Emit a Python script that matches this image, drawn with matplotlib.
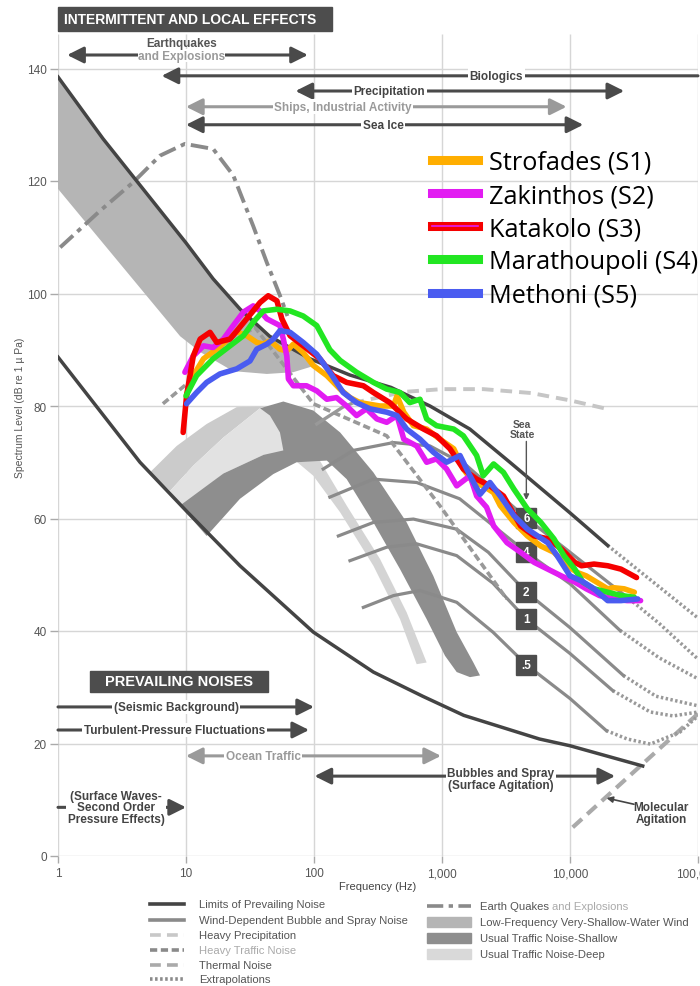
import numpy as np
import matplotlib
matplotlib.use('Agg')
import matplotlib.pyplot as plt
from matplotlib.patches import Rectangle
from matplotlib.lines import Line2D
from matplotlib.patches import ArrowStyle
from matplotlib.ticker import NullLocator

plt.rcParams['font.family'] = ['Liberation Sans', 'DejaVu Sans']
COND = ['Liberation Sans Narrow', 'Liberation Sans', 'DejaVu Sans']

# ---------------- axis data ----------------
freq_ticks = [1, 10, 100, 1000, 10000, 100000]
freq_tick_labels = ['1', '10', '100', '1,000', '10,000', '100,000']
db_ticks = [0, 20, 40, 60, 80, 100, 120, 140]

# ---------------- Wenz reference curves ----------------
upper_limit_f = [1, 2.25, 10, 16.3, 26.5, 45, 93, 191, 400, 805, 1650, 3390, 10000, 19700]
upper_limit_db = [138.5, 127.5, 109, 102.6, 97.2, 92.4, 88.4, 85.5, 83.3, 80, 75.9, 70, 61, 55.2]
upper_extrap_f = [19700, 100000]
upper_extrap_db = [55.2, 42.3]

lower_limit_f = [1, 4.37, 10.2, 26.4, 98.8, 291, 707, 1480, 5770, 10000, 37000]
lower_limit_db = [88.7, 70, 61.2, 51.6, 39.8, 32.7, 28.4, 25, 20.8, 19.6, 16]

# low-frequency very-shallow-water wind band: lower edge (upper edge = upper limit)
shallow_wind_lower_f = [98.8, 68.6, 42.8, 23.3, 12.9, 9.0, 1]
shallow_wind_lower_db = [87.1, 86.0, 85.7, 86.2, 89.6, 92.4, 118.6]

# traffic bands (outlines)
traffic_outer_f = [5.23, 8.46, 14.5, 24.9, 40.2, 37.9, 19.6, 11.4, 7.5]
traffic_outer_db = [68.2, 72.9, 76.8, 79.8, 79.9, 79.6, 74.4, 69.4, 64.9]
traffic_deep_f = [7.5, 11.4, 19.6, 37.9, 64.9, 77.8, 68.9, 40.2, 19.6, 9.25]
traffic_deep_db = [64.9, 69.4, 74.4, 79.6, 78.9, 72.9, 70.6, 71.3, 68.0, 62.1]
traffic_deep_tail_f = [64.9, 111, 111, 180, 328, 530, 759, 634, 470, 291, 160, 98.8, 68.9]
traffic_deep_tail_db = [72.9, 72.9, 70.3, 62.3, 52.8, 43.3, 34.4, 34.1, 42.1, 51.6, 61.1, 67.6, 70.6]
traffic_shallow_f = [8.98, 19.6, 40.2, 57.6, 54.2, 45.3, 37.9, 57.6, 98.8, 160, 291, 530, 855,
                     1303, 1758, 1982, 1655, 1303, 1055, 759, 470, 291, 180, 126, 73.2, 48.1, 26.4, 14.5]
traffic_shallow_db = [62.3, 68.0, 71.3, 72.1, 75.3, 78.3, 79.6, 80.8, 79.2, 75.3, 68.2, 59.3, 49.8,
                      39.8, 34.4, 32.1, 31.8, 32.7, 35.6, 42.1, 51.0, 59.3, 67.0, 70.3, 70.0, 67.9, 63.5, 56.9]

# wind dependent (sea state) curves
sea_states = ['6', '4', '2', '1', '.5']
ss_f = [
    [118, 202, 418, 805, 1560, 4530, 10000, 31000],
    [133, 291, 634, 1375, 4560, 10000, 24600],
    [155, 291, 598, 1303, 2300, 4560, 10000, 26100],
    [191, 370, 634, 1303, 2500, 4560, 10000, 21600],
    [243, 418, 673, 1303, 2500, 4560, 10000, 19200],
]
ss_db = [
    [68.8, 72.1, 73.5, 72.9, 69.4, 60.1, 54, 45.2],
    [63.8, 67, 66.4, 63.5, 54, 48.4, 40.1],
    [56.9, 59.3, 59.9, 58.1, 54, 46.9, 40.6, 32.1],
    [52.5, 54.9, 55.5, 53.4, 48.5, 42.1, 36, 29.4],
    [44.2, 46.3, 47.2, 45.1, 39.8, 34, 28, 22.3],
]
ss_extrap_f = [
    [31000, 50000, 100000],
    [24600, 50000, 100000],
    [26100, 47000, 100000],
    [21600, 42400, 64000, 100000],
    [19200, 28000, 42400, 72000, 100000],
]
ss_extrap_db = [
    [45.2, 41.3, 35],
    [40.1, 35.2, 31.5],
    [32.1, 28.4, 26.7],
    [29.4, 25.6, 24.9, 25.6],
    [22.3, 20.8, 19.9, 22, 24.9],
]
ss_label_f = [4560, 4560, 4560, 4560, 4560]
ss_label_db = [60.1, 54.0, 46.9, 42.1, 34.0]

precip_start_f = [105, 168, 200]
precip_start_db = [76.8, 79.8, 80.5]
precip_f = [200, 250, 500, 1000, 2100, 5000, 10000, 19300]
precip_db = [80.5, 81, 82.5, 83, 83, 82.3, 81, 79.5]

traffic_heavy_f = [6.6, 10.1, 20, 34.5, 98.8, 370, 960, 3200]
traffic_heavy_db = [80.4, 83.9, 90.5, 94, 80.4, 74.7, 62.3, 45.7]

thermal_f = [10500, 100000]
thermal_db = [5.1, 25.3]

quake_f = [1.04, 2.13, 3.88, 6.26, 9.8, 16.3, 23.4, 33.5, 42.8, 54.3, 62]
quake_db = [108.2, 114.7, 119.8, 124.5, 126.6, 125.7, 121, 112, 105.5, 99.6, 96]

# ---------------- measured spectra ----------------
series_names = ['Strofades (S1)', 'Zakinthos (S2)', 'Katakolo (S3)', 'Marathoupoli (S4)', 'Methoni (S5)']
series_colors = ['#FFAE00', '#E21CF2', '#F50000', '#22E622', '#4A5CF0']

s1_f = [10.1, 11.4, 13.7, 17.4, 22.1, 24.9, 29.8, 35.7, 40.2, 45.3, 54.2, 61.3, 69, 82.3, 98.8, 126, 160,
        191, 228, 328, 417, 445, 503, 598, 759, 963, 1235, 1468, 1758, 2100, 2530, 2850, 3650, 4650,
        5920, 7480, 9520, 11400, 13400, 16400, 19700, 21800, 26500, 31800]
s1_db = [82.1, 85.4, 88.4, 90.1, 92.2, 93.2, 92.5, 91.3, 91, 91.6, 90.1, 89.8, 91, 89.5, 87.2, 85.4, 83,
         81.5, 80.6, 80, 80, 81.8, 78.9, 76.5, 75.9, 74.1, 72.4, 68.8, 66.4, 65.8, 64.6, 62.3, 59.3, 56.9,
         55.1, 54, 51.6, 50.4, 49.8, 48.6, 47.5, 47.7, 47.5, 46.9]

s2_f = [9.8, 11.4, 13.7, 16.3, 19.6, 23.4, 28.1, 33.5, 37.9, 42.8, 48.1, 54.2, 57.6, 61.3, 63.1, 69, 87.4,
        105, 126, 150, 180, 215, 257, 310, 370, 445, 503, 634, 759, 907, 1086, 1303, 1655, 1865, 2230,
        2530, 3220, 4110, 5250, 6700, 8550, 10900, 13400, 17000, 21800, 27900, 35600]
s2_db = [86, 88.9, 90.7, 90.4, 91.9, 94.3, 96.7, 97.8, 96.9, 95.5, 94.9, 94.3, 91.9, 88.9, 84.8, 83.6, 83.6,
         82.7, 81.2, 81.5, 80, 78.3, 79.5, 77.7, 77.1, 78.3, 74.1, 72.9, 70, 70.6, 68.8, 65.8, 67.6, 64, 62,
         58.7, 55.7, 54, 52.2, 51, 49.8, 48.7, 47.5, 46.3, 45.7, 45.4, 45.4]

s3_f = [9.5, 10.1, 11.4, 12.9, 15.4, 17.4, 22.1, 29.8, 37.9, 43.9, 51.3, 56.1, 65, 82.3, 111, 141, 180, 243,
        291, 391, 530, 718, 907, 1153, 1468, 1865, 2370, 3020, 4110, 5250, 6700, 8550, 10900, 12300,
        15400, 19700, 25000, 33100]
s3_db = [75.3, 81.8, 88.9, 91.9, 93.1, 91.3, 91.9, 95.5, 98.4, 99.6, 98.7, 95.5, 92.5, 90.7, 88.4, 85.4,
         84.2, 83.6, 82.4, 80.6, 77.7, 75.9, 74.7, 72.4, 68.8, 67, 65.8, 64, 58.7, 56.9, 56.4, 54.6, 52.2,
         51.6, 51.9, 51.6, 51, 49.5]

s4_f = [10.0, 12.1, 16.3, 22.1, 28.1, 33.5, 40.2, 51.3, 65, 82.3, 105, 133, 160, 215, 291, 370, 470, 560,
        673, 759, 907, 1235, 1468, 1865, 2100, 2530, 3020, 3650, 4650, 5920, 7480, 8980, 10900, 12600,
        15400, 19700, 25000, 31800]
s4_db = [81.8, 85.4, 88.4, 90.7, 92.5, 94.9, 96.9, 97.2, 96.9, 96, 94.3, 90, 88.1, 86, 84.2, 83, 82.4, 80.6,
         81.2, 77.7, 76.5, 75.9, 74.7, 71.2, 67.6, 69.7, 68.2, 65.2, 61.7, 59.3, 56.4, 53.4, 51, 48.7,
         47.5, 46.9, 46.3, 46]

s5_f = [10.1, 12.1, 14.5, 18.4, 24.9, 31.6, 35.7, 42.8, 48.1, 54.2, 65, 82.3, 105, 133, 169, 215, 274, 370,
        445, 530, 673, 855, 1086, 1382, 1655, 1982, 2370, 2850, 3650, 4650, 6700, 7930, 10000, 12300,
        15400, 19700, 25000, 33800]
s5_db = [80.4, 82.4, 84.2, 85.7, 86.6, 88, 90.1, 91, 91.9, 93.4, 93.1, 91.3, 89.2, 86, 82.4, 80.6, 79.5,
         78.9, 78.3, 75.9, 74.1, 71.8, 70, 71.2, 67.6, 64.3, 66.4, 64, 60.5, 58.1, 55.7, 53.4, 49.8, 48.9,
         47.5, 45.4, 45.4, 45.7]

series_f = [s1_f, s2_f, s3_f, s4_f, s5_f]
series_db = [s1_db, s2_db, s3_db, s4_db, s5_db]

# ---------------- figure ----------------
W, H = 700, 987
fig = plt.figure(figsize=(W / 100, H / 100), dpi=100)
ax = fig.add_axes([58 / W, 130 / H, 640 / W, 852 / H])
ax.set_xscale('log')
ax.set_xlim(1, 1e5)
ax.set_ylim(0, 852 / 5.625)
for s in ax.spines.values():
    s.set_visible(False)

GRID = '#d6d6d6'
ax.vlines(freq_ticks, 0, 146.2, color=GRID, lw=1, zorder=0.5)
ax.hlines(db_ticks, 1, 1e5, color=GRID, lw=1, zorder=0.5)

ax.set_xticks(freq_ticks)
ax.set_xticklabels(freq_tick_labels)
ax.xaxis.set_minor_locator(NullLocator())
ax.set_yticks(db_ticks)
ax.tick_params(axis='y', length=6, width=1, color='#aaaaaa', labelsize=8.5, labelcolor='#555555', pad=2)
ax.tick_params(axis='x', length=5, width=1, color='#aaaaaa', labelsize=8.5, labelcolor='#555555', pad=3)
ax.set_xlabel('Frequency (Hz)', fontsize=8, color='#444444')
ax.xaxis.set_label_coords(0.5, -0.029)
ax.set_ylabel('Spectrum Level (dB re 1 \u00b5 Pa)', fontsize=7.5, color='#555555')
ax.yaxis.set_label_coords(-0.052, 0.527)

# bands
ax.fill(list(upper_limit_f[:7]) + shallow_wind_lower_f, list(upper_limit_db[:7]) + shallow_wind_lower_db,
        color='#b5b5b5', lw=0, zorder=1)
ax.fill(traffic_outer_f, traffic_outer_db, color='#cbcbcb', lw=0, zorder=1.1)
ax.fill(traffic_deep_f, traffic_deep_db, color='#e2e2e2', lw=0, zorder=1.2)
ax.fill(traffic_deep_tail_f, traffic_deep_tail_db, color='#d4d4d4', lw=0, zorder=1.3)
ax.fill(traffic_shallow_f, traffic_shallow_db, color='#8e8e8e', lw=0, zorder=1.4)

# reference lines
SS = '#8a8a8a'
ax.plot(thermal_f, thermal_db, color='#aaaaaa', lw=3, dashes=(3, 1.7), zorder=2)
for fx, dx in zip(ss_extrap_f, ss_extrap_db):
    ax.plot(fx, dx, color='#999999', lw=2.5, dashes=(0.7, 0.7), zorder=2)
ax.plot(upper_extrap_f, upper_extrap_db, color='#999999', lw=2.5, dashes=(0.7, 0.7), zorder=2)
for fx, dx in zip(ss_f, ss_db):
    ax.plot(fx, dx, color=SS, lw=2.3, zorder=2.1, solid_joinstyle='round')
ax.plot(traffic_heavy_f, traffic_heavy_db, color='#999999', lw=2.6, dashes=(2, 1), zorder=2.2)
ax.plot(precip_start_f, precip_start_db, color='#999999', lw=2.4, zorder=2.2)
ax.plot(precip_f, precip_db, color='#c6c6c6', lw=2.8, dashes=(3, 1.8), zorder=2.2)
ax.plot(quake_f, quake_db, color='#8a8a8a', lw=2.8, dashes=(4.5, 1.5, 1.2, 1.5), zorder=2.2)
ax.plot(upper_limit_f, upper_limit_db, color='#444444', lw=2.5, zorder=3)
ax.plot(lower_limit_f, lower_limit_db, color='#444444', lw=2.5, zorder=3)

# sea-state labels
ax.plot(ss_label_f, ss_label_db, 's', ms=14, color='#4d4d4d', zorder=4)
for lab, fx, dx in zip(sea_states, ss_label_f, ss_label_db):
    ax.text(fx, dx, lab, ha='center', va='center', color='white', fontsize=8.5,
            fontweight='bold', family=COND, zorder=4.1)
ax.text(4210, 75.9, 'Sea\nState', ha='center', va='center', fontsize=7.5, fontweight='bold',
        family=COND, color='#555555', linespacing=0.95, zorder=4)
ax.annotate('', xy=(4560, 63.3), xytext=(4560, 73.7),
            arrowprops=dict(arrowstyle='-|>', color='#555555', lw=1, mutation_scale=8,
                            shrinkA=0, shrinkB=0), zorder=4)

# measured spectra
for fx, dx, col in zip(series_f, series_db, series_colors):
    ax.plot(fx, dx, color=col, lw=4.0, zorder=5, solid_joinstyle='round', solid_capstyle='round')

# legend
LW_H = 6.5
h_s1 = Line2D([], [], color=series_colors[0], lw=LW_H)
h_s2 = Line2D([], [], color=series_colors[1], lw=LW_H)
h_s3 = (Line2D([], [], color=series_colors[2], lw=LW_H), Line2D([], [], color=series_colors[1], lw=1.2))
h_s4 = Line2D([], [], color=series_colors[3], lw=LW_H)
h_s5 = Line2D([], [], color=series_colors[4], lw=LW_H)
leg = ax.legend([h_s1, h_s2, h_s3, h_s4, h_s5], series_names, loc='upper left',
                bbox_to_anchor=((432 - 58) / 640, (857 - 151) / 852), frameon=False,
                prop={'family': ['Open Sans', 'DejaVu Sans'], 'size': 18.2},
                handlelength=1.8, handletextpad=0.45, labelspacing=0.32, borderpad=0, borderaxespad=0)
leg.set_zorder(7)

# ---------------- annotations ----------------
DARK = '#4a4a4a'
LIGHT = '#9a9a9a'
TXT = dict(family=COND, fontweight='bold', fontsize=8.5, ha='center', va='center', zorder=6.5)
WB = dict(boxstyle='square,pad=0.12', fc='white', ec='none')


def arrow(x0, x1, y, color, style='<|-|>', lw=2.2):
    ax.annotate('', xy=(x1, y), xytext=(x0, y), xycoords='data', annotation_clip=False,
                arrowprops=dict(arrowstyle=ArrowStyle(style, head_length=0.9, head_width=0.45),
                                color=color, lw=lw, shrinkA=0, shrinkB=0, mutation_scale=11),
                zorder=6)


# header box
ax.add_patch(Rectangle((1, 146.6), 137, 4.3, color='#4d4d4d', clip_on=False, zorder=6))
ax.text(1.12, 148.75, 'INTERMITTENT AND LOCAL EFFECTS', color='white', fontsize=10, fontweight='bold',
        family=COND, ha='left', va='center', zorder=6.5)

arrow(1.18, 89.6, 142.4, DARK)
ax.text(9.2, 142.3, 'and Explosions', color=LIGHT,
        bbox=dict(boxstyle='square,pad=0.02', fc='white', ec='none'), **TXT)
eq_style = dict(TXT)
eq_style['zorder'] = 6.8
ax.text(9.2, 144.55, 'Earthquakes', color='#555555', **eq_style)

arrow(1e5, 6.45, 138.7, DARK, style='-|>')
ax.text(2660, 138.7, 'Biologics', color='#444444', bbox=WB, **TXT)
arrow(71.7, 26500, 136.0, DARK)
ax.text(388, 136.0, 'Precipitation', color='#444444', bbox=WB, **TXT)
arrow(10, 9400, 133.2, LIGHT)
ax.text(168, 133.2, 'Ships, Industrial Activity', color=LIGHT, bbox=WB, **TXT)
arrow(10, 12700, 130.0, DARK)
ax.text(346, 130.0, 'Sea Ice', color='#444444', bbox=WB, **TXT)

# prevailing noises
ax.add_patch(Rectangle((1.78, 29.2), 43.7 - 1.78, 3.7, color='#4d4d4d', zorder=6))
ax.text(8.82, 31.05, 'PREVAILING NOISES', color='white', fontsize=10.5, fontweight='bold',
        family=COND, ha='center', va='center', zorder=6.5)
arrow(1, 100, 26.5, DARK, style='-|>')
ax.text(8.36, 26.5, '(Seismic Background)', color='#444444', bbox=WB, **TXT)
arrow(1, 91.5, 22.4, DARK, style='-|>')
ax.text(8.13, 22.4, 'Turbulent-Pressure Fluctuations', color='#444444', bbox=WB, **TXT)
arrow(10, 982, 17.8, LIGHT)
ax.text(40, 17.8, 'Ocean Traffic', color=LIGHT, bbox=WB, **TXT)
arrow(101, 22500, 14.2, DARK)
ax.text(2890, 13.7, 'Bubbles and Spray\n(Surface Agitation)', color='#444444', bbox=WB,
        linespacing=0.95, **TXT)
arrow(1, 10, 8.65, DARK, style='-|>')
ax.text(2.84, 8.7, '(Surface Waves-\nSecond Order\nPressure Effects)', color='#444444', bbox=WB,
        linespacing=0.95, **TXT)
ax.text(51700, 7.6, 'Molecular\nAgitation', color='#444444', linespacing=0.95, **TXT)
ax.annotate('', xy=(19300, 10.3), xytext=(31600, 9.2),
            arrowprops=dict(arrowstyle='-|>', color='#444444', lw=1.2, mutation_scale=9,
                            shrinkA=0, shrinkB=0), zorder=6)

# ---------------- bottom key ----------------
def fx_(px):
    return px / W


def fy_(py):
    return 1 - py / H


KEY_FS = 8.1
left_key = [
    ('Limits of Prevailing Noise', dict(color='#444444'), '#555555'),
    ('Wind-Dependent Bubble and Spray Noise', dict(color='#8a8a8a'), '#555555'),
    ('Heavy Precipitation', dict(color='#c8c8c8', dashes=(3, 1.7)), '#555555'),
    ('Heavy Traffic Noise', dict(color='#8a8a8a', dashes=(2, 1, 2, 1, 2, 1, 0.6, 1)), '#aaaaaa'),
    ('Thermal Noise', dict(color='#aaaaaa', dashes=(3, 1.7)), '#555555'),
    ('Extrapolations', dict(color='#8a8a8a', dashes=(0.7, 0.7)), '#555555'),
]
left_rows = [905, 921, 936, 951, 966, 980]
for (lab, st, tc), py in zip(left_key, left_rows):
    fig.add_artist(Line2D([fx_(150), fx_(184)], [fy_(py), fy_(py)], lw=2.6, transform=fig.transFigure, **st))
    fig.text(fx_(199), fy_(py), lab, color=tc, fontsize=KEY_FS, va='center', ha='left')

right_rows = [907, 923, 939, 955]
fig.add_artist(Line2D([fx_(427), fx_(471)], [fy_(907), fy_(907)], lw=2.6, color='#8a8a8a',
                      dashes=(4.5, 1.5, 1.2, 1.5), transform=fig.transFigure))
t1 = fig.text(fx_(480), fy_(907), 'Earth Quakes', color='#555555', fontsize=KEY_FS, va='center', ha='left')
r = fig.canvas.get_renderer()
bb = t1.get_window_extent(renderer=r)
fig.text((bb.x1 + 3) / W, fy_(907), 'and Explosions', color='#aaaaaa', fontsize=KEY_FS, va='center', ha='left')
band_key = [('Low-Frequency Very-Shallow-Water Wind', '#b5b5b5'),
            ('Usual Traffic Noise-Shallow', '#8e8e8e'),
            ('Usual Traffic Noise-Deep', '#d9d9d9')]
for (lab, col), py in zip(band_key, right_rows[1:]):
    fig.add_artist(Rectangle((fx_(427), fy_(py + 5)), fx_(471) - fx_(427), 10 / H, color=col,
                             transform=fig.transFigure))
    fig.text(fx_(480), fy_(py), lab, color='#555555', fontsize=KEY_FS, va='center', ha='left')

fig.savefig('out.png', dpi=100)
